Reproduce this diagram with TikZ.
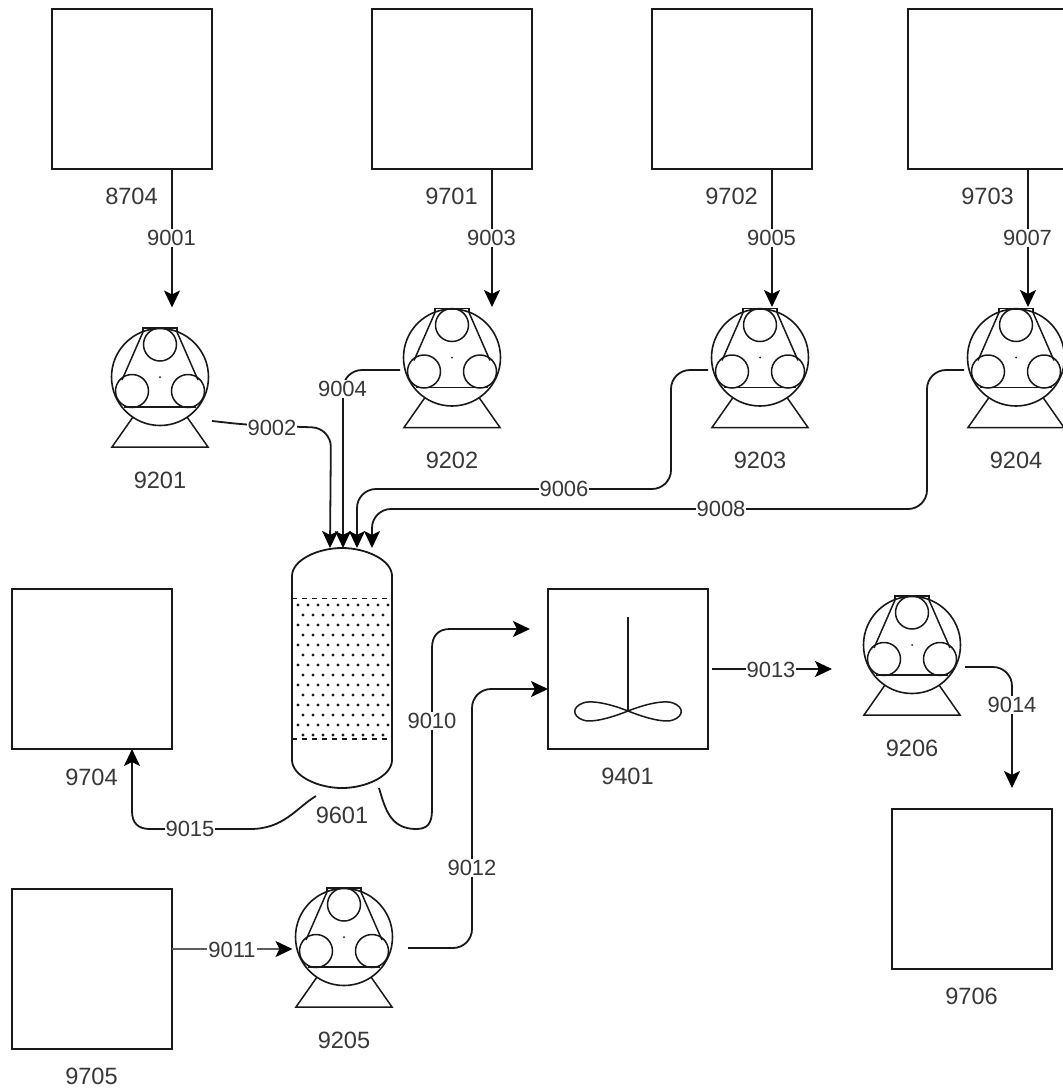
\documentclass[tikz,border=0pt]{standalone}
\usepackage{fontspec}
\setmainfont{Liberation Sans}
\usetikzlibrary{arrows.meta}
\definecolor{ink}{gray}{0.1}
\definecolor{txt}{gray}{0.22}
\tikzset{
  tank/.style={draw=ink,line width=1.6pt,fill=white,minimum size=160pt,inner sep=0pt,outer sep=0pt},
  pumpbody/.style={circle,draw=ink,line width=1.6pt,minimum size=97pt,inner sep=0pt,outer sep=0pt},
  part/.style={draw=ink,line width=1.5pt},
  tagtext/.style={text=txt,font=\fontsize{23.6}{27}\selectfont,inner sep=0pt},
  lab/.style={text=txt,fill=white,font=\fontsize{22}{25}\selectfont,inner sep=1pt},
  pipe/.style={draw=ink,line width=1.8pt,rounded corners=19pt},
  flow/.style={pipe,-{Stealth[length=17pt,width=16pt,inset=4pt,color=black]}}
}
\newcommand{\pumpat}[4]{%
  \node[pumpbody] (p#1) at (#2,#3) {};
  \begin{scope}[shift={(#2,#3)}]
    \draw[part] (0,-32.5) circle[radius=16.5];
    \draw[part] (-28,14) circle[radius=16.5];
    \draw[part] (28,14) circle[radius=16.5];
    \draw[part] (-17,-45) -- (-17,-49) -- (17,-49) -- (17,-45);
    \draw[part] (-17,-45) -- (-38,3);
    \draw[part] (17,-45) -- (38,3);
    \draw[part] (-36,30) -- (36,30);
    \draw[part] (-27,40) -- (-48,70) -- (48,70) -- (27,40);
    \fill[ink] (0,0) circle[radius=1];
  \end{scope}
  \node[tagtext] (n#1) at (#2,#4) {#1};
}
\begin{document}
\begin{tikzpicture}[x=1pt,y=-1pt]
\useasboundingbox (0,0) rectangle (1063,1090);
\clip (0,0) rectangle (1063,1090);
\fill[white] (0,0) rectangle (1063,1090);
% tanks
\node[tank] (b8704) at (132,89) {};
\node[tank] (b9701) at (452,89) {};
\node[tank] (b9702) at (732,89) {};
\node[tank] (b9703) at (988,89) {};
\node[tank] (b9704) at (92,669) {};
\node[tank] (b9705) at (92,969) {};
\node[tank] (b9706) at (972,889) {};
\node[tank] (b9401) at (628,669) {};
\node[tagtext] (n8704) at (131.5,196) {8704};
\node[tagtext] (n9701) at (451.5,196) {9701};
\node[tagtext] (n9702) at (731.5,196) {9702};
\node[tagtext] (n9703) at (987.5,196) {9703};
\node[tagtext] (n9704) at (91.5,777) {9704};
\node[tagtext] (n9705) at (91.5,1076) {9705};
\node[tagtext] (n9706) at (971.5,996) {9706};
\node[tagtext] (n9401) at (627.5,776) {9401};
% pumps
\pumpat{9201}{160}{377}{480}
\pumpat{9202}{452}{357.5}{460}
\pumpat{9203}{760}{357.5}{460}
\pumpat{9204}{1016}{357.5}{460}
\pumpat{9205}{344}{937}{1040}
\pumpat{9206}{912}{645}{748}
% agitator
\draw[part] (628,617) -- (628,711);
\draw[part] (628,711) .. controls (608,703) and (590,700) .. (583,703)
  .. controls (572,707) and (572,716) .. (583,720)
  .. controls (590,723) and (608,719) .. (628,711)
  .. controls (648,703) and (666,700) .. (673,703)
  .. controls (684,707) and (684,716) .. (673,720)
  .. controls (666,723) and (648,719) .. (628,711);
% column
\node[minimum width=100pt,minimum height=240pt,inner sep=0pt,outer sep=0pt] (c9601) at (342,668) {};
\foreach \r in {0,...,13}{
  \pgfmathsetmacro{\yy}{605+10*\r}
  \ifodd\r
    \foreach \k in {0,...,8}{\fill[ink] ({303+10*\k},\yy) circle[radius=1.6];}
  \else
    \foreach \k in {0,...,9}{\fill[ink] ({298+10*\k},\yy) circle[radius=1.6];}
  \fi
}
\draw[part,dash pattern=on 5pt off 5pt] (292,598.5) -- (392,598.5);
\draw[part,dash pattern=on 5pt off 5pt] (292,739) -- (392,739);
\draw[draw=ink,line width=1.8pt] (292,760) -- (292,576) .. controls (292,560) and (318,548) .. (342,548)
  .. controls (366,548) and (392,560) .. (392,576) -- (392,760)
  .. controls (392,776) and (366,788) .. (342,788)
  .. controls (318,788) and (292,776) .. (292,760) -- cycle;
\node[tagtext] (n9601) at (342,815) {9601};
% connectors
\draw[flow] ([xshift=40pt]b8704.south) -- ([xshift=12pt,yshift=21pt]p9201.north);
\node[lab] (l9001) at (171.5,238) {9001};
\draw[flow] ([xshift=40pt]b9701.south) -- ([xshift=40pt,yshift=2pt]p9202.north);
\node[lab] (l9003) at (491.5,238) {9003};
\draw[flow] ([xshift=40pt]b9702.south) -- ([xshift=12pt,yshift=2pt]p9203.north);
\node[lab] (l9005) at (771.5,238) {9005};
\draw[flow] ([xshift=40pt]b9703.south) -- ([xshift=12pt,yshift=2pt]p9204.north);
\node[lab] (l9007) at (1027.5,238) {9007};

\coordinate (a9002) at (212,421);
\coordinate (a9002b) at (248,425);
\draw[flow] (a9002) -- (a9002b) -- (331,428) -- ([xshift=-12pt]c9601.north);
\node[lab] (l9002) at (272,428) {9002};
\coordinate (a9004) at (400,370);
\draw[flow] (a9004) -- (343,370) -- ([xshift=1pt]c9601.north);
\node[lab] (l9004) at (342.5,389) {9004};
\coordinate (a9006) at (708,370);
\draw[flow] (a9006) -- (671,370) -- (671,489) -- (357,489) -- ([xshift=15pt]c9601.north);
\node[lab] (l9006) at (564,489) {9006};
\coordinate (a9008) at (964,370);
\draw[flow] (a9008) -- (927,370) -- (927,509) -- (372,509) -- ([xshift=30pt]c9601.north);
\node[lab] (l9008) at (721,509) {9008};
\coordinate (a9010) at (379,788);
\coordinate (e9010) at (530,629);
\draw[flow,sharp corners] (a9010) .. controls (385,808) and (390,829) .. (416,829) .. controls (427,829) and (432,824) .. (432,810) -- (432,648) .. controls (432,636) and (438,629) .. (450,629) -- (e9010);
\node[lab] (l9010) at (432,721) {9010};
\coordinate (a9012) at (408,948);
\draw[flow] (a9012) -- (472,948) -- (472,689) -- ([yshift=-20pt]b9401.west);
\node[lab] (l9012) at (472,868) {9012};
\coordinate (a9013) at (712,669);
\coordinate (e9013) at (832,669);
\draw[flow] (a9013) -- (e9013);
\node[lab] (l9013) at (771,670) {9013};
\coordinate (a9014) at (965,667);
\coordinate (e9014) at (1012,788);
\draw[flow] (a9014) -- (1012,667) -- (e9014);
\node[lab] (l9014) at (1012,705) {9014};
\coordinate (a9015) at (316,796);
\draw[flow,sharp corners] (a9015) .. controls (296,808) and (284,829) .. (250,829) -- (150,829) .. controls (138,829) and (132,823) .. (132,811) -- ([xshift=40pt]b9704.south);
\node[lab] (l9015) at (190,829) {9015};
\draw[flow,draw=ink!70] ([yshift=20pt]b9705.east) -- ([yshift=-12pt,xshift=-3pt]p9205.west);
\node[lab] (l9011) at (232,950) {9011};
\end{tikzpicture}
\end{document}
